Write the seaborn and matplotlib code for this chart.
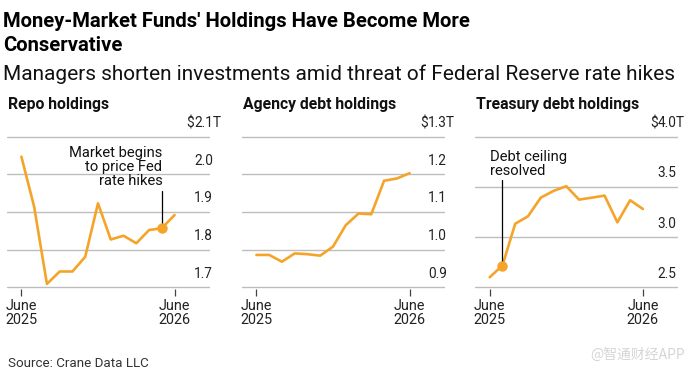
import pandas as pd
import seaborn as sns
import matplotlib.pyplot as plt

# Monthly holdings, June 2025 - June 2026 (trillions of dollars)
months = list(range(13))
repo = [2.047, 1.914, 1.709, 1.742, 1.742, 1.781, 1.923, 1.827, 1.837, 1.817, 1.852, 1.857, 1.892]
agency = [0.986, 0.986, 0.968, 0.990, 0.988, 0.984, 1.008, 1.065, 1.096, 1.094, 1.183, 1.189, 1.203]
treasury = [2.60, 2.717, 3.133, 3.207, 3.393, 3.46, 3.507, 3.373, 3.393, 3.413, 3.147, 3.367, 3.28]

tick_pos = [0, 12]
tick_labels = ["June\n2025", "June\n2026"]

panel_titles = ["Repo holdings", "Agency debt holdings", "Treasury debt holdings"]
panel_levels = [
    [1.7, 1.8, 1.9, 2.0, 2.1],
    [0.9, 1.0, 1.1, 1.2, 1.3],
    [2.5, 3.0, 3.5, 4.0],
]

sns.set_theme(style="white")
plt.rcParams["font.family"] = ["Roboto", "DejaVu Sans"]

ORANGE = "#F5A42A"
GRID = "#bdbdbd"

df = pd.DataFrame({"month": months, "Repo": repo, "Agency": agency, "Treasury": treasury})

fig = plt.figure(figsize=(6.91, 3.76), dpi=100)

lefts = [6.7 / 691, 241.7 / 691, 475 / 691]
width = 203 / 691
# plot box from y=134.7 to 289.3 px (gridlines at 136.7 .. 287.3)
bottom = (376 - 289.3) / 376
height = (289.3 - 134.7) / 376
label_x = [0.923, 0.919, 0.900]

axes = []
for i, col in enumerate(["Repo", "Agency", "Treasury"]):
    ax = fig.add_axes([lefts[i], bottom, width, height])
    levels = panel_levels[i]
    span = levels[-1] - levels[0]
    pad = span * 2.0 / 150.6
    sns.lineplot(data=df, x="month", y=col, ax=ax, color=ORANGE, lw=1.9, zorder=3)
    ax.set_xlim(-1.15, 14.75)
    ax.set_ylim(levels[0] - pad, levels[-1] + pad)
    for s in ax.spines.values():
        s.set_visible(False)
    ax.set_xlabel("")
    ax.set_ylabel("")
    ax.set_yticks(levels)
    ax.tick_params(axis="y", length=0, left=False, labelleft=False)
    ax.grid(axis="y", color=GRID, lw=1.0, alpha=1.0)
    ax.grid(axis="x", visible=False)
    ax.set_axisbelow(True)
    ax.set_xticks(tick_pos)
    ax.set_xticklabels(tick_labels, fontsize=10.4, color="#222222", linespacing=1.0)
    ax.tick_params(axis="x", length=5, width=0.9, color="#444444", pad=2, bottom=True)
    # value labels sitting above the gridlines
    trans = ax.get_yaxis_transform()
    off = span * 9.5 / 150.6
    for lv in levels:
        txt = f"{lv:.1f}" + ("T" if lv == levels[-1] else "")
        ax.text(label_x[i], lv + off, txt, transform=trans, ha="left", va="baseline",
                fontsize=9.8, color="#222222", clip_on=False)
        if lv == levels[-1]:
            ax.text(label_x[i], lv + off, "$", transform=trans, ha="right", va="baseline",
                    fontsize=9.8, color="#222222", clip_on=False)
    fig.text(lefts[i] + 1.5 / 691, 1 - 109 / 376, panel_titles[i], fontsize=11.3,
             fontweight="bold", color="#111111", ha="left", va="baseline")
    axes.append(ax)

# Annotation: repo
ax = axes[0]
ax.text(11.05, 1.973, "Market begins\nto price Fed\nrate hikes", ha="right", va="baseline",
        fontsize=10.6, color="#111111", linespacing=1.0)
ax.plot([months[11], months[11]], [1.955, repo[11]], color="black", lw=0.9, zorder=4)
ax.plot(months[11], repo[11], "o", color=ORANGE, ms=6.5, zorder=5)

# Annotation: treasury
ax = axes[2]
ax.text(0.0, 3.617, "Debt ceiling\nresolved", ha="left", va="baseline",
        fontsize=10.6, color="#111111", linespacing=1.0)
ax.plot([months[1], months[1]], [3.565, treasury[1]], color="black", lw=0.9, zorder=4)
ax.plot(months[1], treasury[1], "o", color=ORANGE, ms=6.5, zorder=5)

# Headline block
fig.text(3 / 691, 1 - 27 / 376, "Money-Market Funds' Holdings Have Become More",
         fontsize=14.6, fontweight="bold", color="#000000", ha="left", va="baseline")
fig.text(3 / 691, 1 - 51 / 376, "Conservative",
         fontsize=14.6, fontweight="bold", color="#000000", ha="left", va="baseline")
fig.text(3 / 691, 1 - 80 / 376, "Managers shorten investments amid threat of Federal Reserve rate hikes",
         fontsize=15.0, color="#111111", ha="left", va="baseline")

fig.text(8 / 691, 1 - 367 / 376, "Source: Crane Data LLC", fontsize=9.6, color="#333333",
         ha="left", va="baseline")
fig.text(685 / 691, 1 - 355 / 376, "@智通财经APP", fontsize=10, color="#d5d5d5",
         ha="right", va="center", family=["Noto Sans CJK SC", "DejaVu Sans"])

fig.savefig("out.png", dpi=100)
